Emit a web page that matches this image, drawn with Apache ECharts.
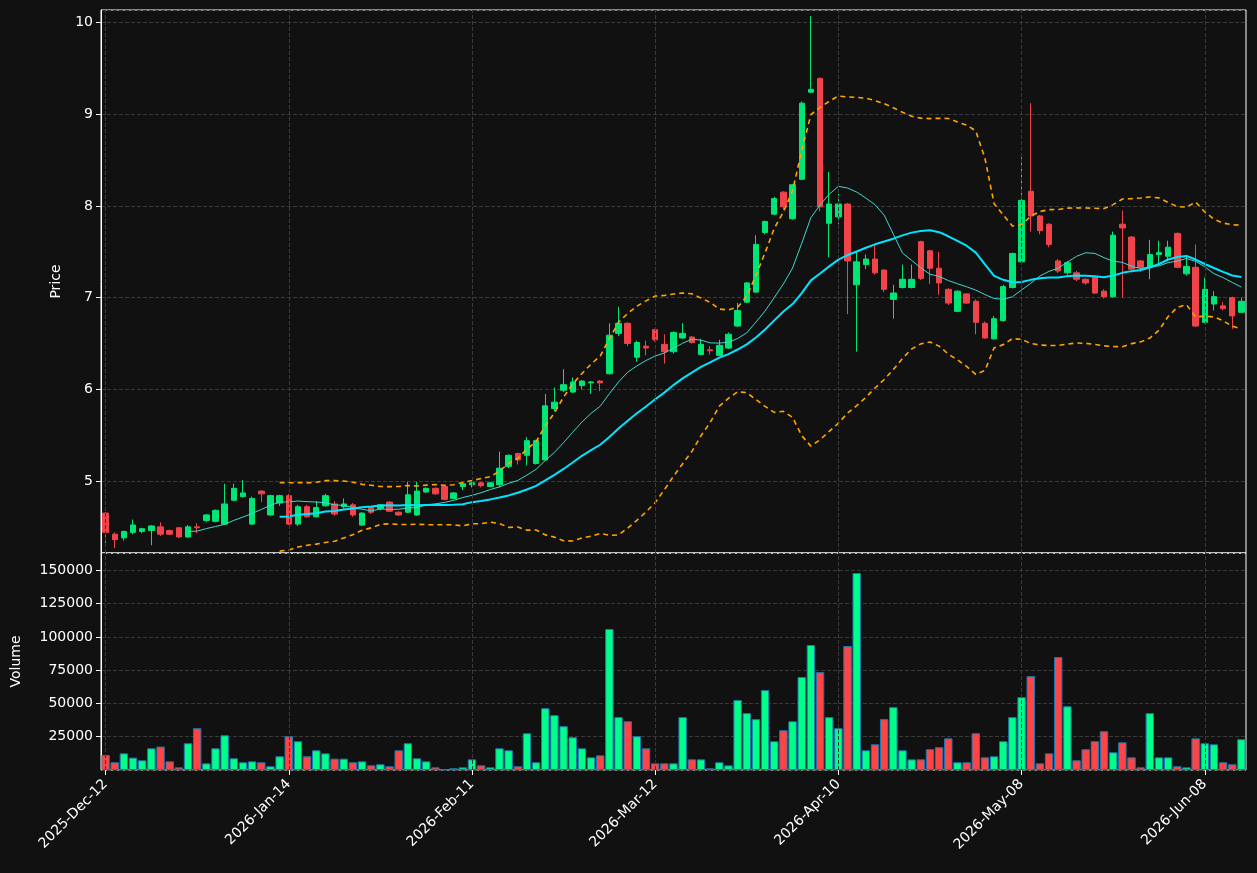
<!DOCTYPE html>
<html><head><meta charset="utf-8">
<script src="https://cdn.jsdelivr.net/npm/echarts@6/dist/echarts.min.js"></script>
<style>html,body{margin:0;background:#111111;}#c{width:1257px;height:873px;}</style>
</head><body><div id="c"></div>
<script>
// [open, close, low, high]
const ohlc = [
[4.65,4.44,4.32,4.66],[4.42,4.36,4.27,4.44],[4.38,4.45,4.35,4.46],[4.44,4.52,4.42,4.58],[4.45,4.48,4.43,4.49],
[4.46,4.51,4.30,4.52],[4.50,4.42,4.40,4.55],[4.46,4.42,4.41,4.47],[4.49,4.39,4.38,4.50],[4.39,4.50,4.38,4.52],
[4.50,4.49,4.43,4.54],[4.57,4.63,4.55,4.64],[4.56,4.68,4.55,4.69],[4.53,4.75,4.52,4.97],[4.79,4.92,4.78,4.97],
[4.83,4.87,4.82,5.01],[4.53,4.81,4.52,4.83],[4.89,4.86,4.77,4.90],[4.63,4.84,4.62,4.85],[4.76,4.84,4.73,4.85],
[4.84,4.53,4.52,4.86],[4.53,4.72,4.51,4.74],[4.72,4.61,4.60,4.74],[4.61,4.71,4.60,4.78],[4.73,4.84,4.72,4.86],
[4.75,4.64,4.62,4.78],[4.72,4.75,4.70,4.81],[4.74,4.63,4.61,4.76],[4.52,4.65,4.51,4.66],[4.71,4.66,4.64,4.72],
[4.70,4.74,4.68,4.75],[4.77,4.67,4.66,4.78],[4.66,4.63,4.62,4.67],[4.66,4.85,4.65,4.99],[4.63,4.89,4.62,4.99],
[4.88,4.92,4.87,4.93],[4.92,4.86,4.85,4.93],[4.94,4.80,4.79,4.95],[4.81,4.87,4.80,4.88],[4.94,4.97,4.90,4.98],
[4.96,4.98,4.93,4.99],[4.98,4.95,4.93,4.99],[4.94,4.98,4.93,4.99],[4.96,5.14,4.93,5.32],[5.16,5.28,5.14,5.29],
[5.30,5.23,5.18,5.31],[5.28,5.44,5.17,5.48],[5.19,5.44,5.18,5.45],[5.23,5.82,5.22,5.95],[5.79,5.86,5.76,6.02],
[5.99,6.05,5.97,6.22],[5.97,6.08,5.96,6.13],[6.04,6.09,6.00,6.10],[6.07,6.08,5.95,6.09],[6.09,6.07,5.98,6.10],
[6.17,6.59,6.16,6.72],[6.61,6.72,6.58,6.90],[6.72,6.50,6.47,6.73],[6.35,6.51,6.30,6.53],[6.47,6.45,6.37,6.53],
[6.65,6.54,6.52,6.66],[6.49,6.41,6.28,6.60],[6.41,6.62,6.39,6.63],[6.56,6.61,6.55,6.72],[6.57,6.51,6.50,6.58],
[6.38,6.49,6.37,6.55],[6.43,6.42,6.38,6.47],[6.37,6.48,6.36,6.54],[6.45,6.60,6.44,6.62],[6.69,6.86,6.68,6.94],
[6.95,7.16,6.94,7.17],[7.06,7.58,7.05,7.68],[7.71,7.83,7.69,7.84],[7.91,8.08,7.90,8.10],[8.15,7.99,7.96,8.16],
[7.86,8.23,7.85,8.24],[8.29,9.12,8.28,9.14],[9.24,9.27,9.23,10.07],[9.39,7.99,7.94,9.40],[7.81,8.02,7.44,8.37],
[7.88,8.02,7.80,8.13],[8.02,7.40,6.82,8.03],[7.14,7.39,6.41,7.50],[7.36,7.42,7.31,7.47],[7.42,7.27,7.25,7.58],
[7.30,7.09,7.06,7.31],[6.98,7.05,6.77,7.14],[7.11,7.20,7.10,7.36],[7.11,7.20,7.10,7.36],[7.61,7.21,7.19,7.62],
[7.51,7.32,7.15,7.52],[7.32,7.16,7.03,7.50],[7.09,6.94,6.92,7.10],[6.85,7.07,6.84,7.08],[7.04,6.94,6.93,7.05],
[6.96,6.73,6.60,6.98],[6.72,6.56,6.55,6.74],[6.55,6.77,6.54,6.80],[6.75,7.12,6.74,7.14],[7.11,7.48,7.10,7.49],
[7.39,8.06,7.38,8.53],[8.16,7.89,7.72,9.12],[7.89,7.73,7.69,7.90],[7.80,7.58,7.55,7.81],[7.40,7.29,7.27,7.42],
[7.27,7.38,7.25,7.40],[7.27,7.20,7.18,7.29],[7.20,7.16,7.14,7.21],[7.23,7.05,7.04,7.24],[7.07,7.01,6.99,7.09],
[7.01,7.68,7.00,7.72],[7.80,7.76,7.00,7.95],[7.66,7.31,7.30,7.67],[7.40,7.33,7.28,7.41],[7.33,7.47,7.20,7.63],
[7.47,7.49,7.35,7.62],[7.45,7.55,7.40,7.62],[7.70,7.33,7.32,7.71],[7.26,7.34,7.24,7.45],[7.33,6.69,6.68,7.58],
[6.73,7.09,6.72,7.22],[6.93,7.01,6.86,7.07],[6.91,6.88,6.86,6.95],[7.00,6.80,6.66,7.01],[6.84,6.96,6.83,7.00]
];
const volumes = [
11300,5800,12500,9300,7300,16300,17600,6500,2000,20100,31400,5000,16300,26100,8800,5800,6500,5800,2800,10300,
25400,21600,10300,14800,12500,8500,8500,5800,6500,3500,4300,2800,14800,20100,8800,6500,2000,500,1300,2000,
8000,3500,2000,16300,14800,2800,27600,5800,46400,41200,32900,24600,16300,9500,11000,105900,39700,36600,25400,16300,
5000,5000,5000,39700,8000,8000,1300,5800,3500,52500,42700,38200,60000,21600,29900,36600,69800,93900,73500,39700,
31400,93100,148000,14800,19300,38200,47200,14800,8000,8000,15600,17100,23800,5800,5800,27600,9500,10300,21600,39700,
54700,70500,5000,12500,84800,47900,7300,15600,21600,29100,13300,20800,9500,2000,42700,9500,9500,2800,2000,23800,
20100,19300,5800,4300,23100
];
const holidays = ['2025-12-25','2025-12-26','2026-01-01','2026-02-16','2026-04-03','2026-05-25'];
const startDate = '2025-12-12';
const monthNames = ['Jan','Feb','Mar','Apr','May','Jun','Jul','Aug','Sep','Oct','Nov','Dec'];

const dates = [];
(function(){
  let d = new Date(startDate + 'T00:00:00Z');
  while (dates.length < ohlc.length) {
    const iso = d.toISOString().slice(0,10);
    const wd = d.getUTCDay();
    if (wd !== 0 && wd !== 6 && holidays.indexOf(iso) < 0) {
      dates.push(d.getUTCFullYear() + '-' + monthNames[d.getUTCMonth()] + '-' + String(d.getUTCDate()).padStart(2,'0'));
    }
    d = new Date(d.getTime() + 86400000);
  }
})();
const tickDates = dates.filter((d,i)=> i%20===0);
const closes = ohlc.map(r => r[1]);
function ma(n){ return closes.map((c,i)=> i<n-1 ? '-' : +(closes.slice(i-n+1,i+1).reduce((a,b)=>a+b,0)/n).toFixed(4)); }
function boll(n,k,sign){ return closes.map((c,i)=>{ if(i<n-1) return '-'; const s=closes.slice(i-n+1,i+1); const m=s.reduce((a,b)=>a+b,0)/n; const sd=Math.sqrt(s.reduce((a,b)=>a+(b-m)*(b-m),0)/n); return +(m+sign*k*sd).toFixed(4); }); }
const UP='#00e676', DOWN='#f0444a';
const volData = volumes.map((v,i)=>({value:v,itemStyle:{color: ohlc[i][1]>=ohlc[i][0] ? '#00ff88' : '#ff4444'}}));
const vGrid = {symbol:'none', silent:true, label:{show:false}, lineStyle:{color:'#3a3a3a', type:'dashed', width:1},
  data: tickDates.map(d=>({xAxis:d}))};
const chart = echarts.init(document.getElementById('c'));
const axisTxt = {color:'#ffffff', fontSize:14, fontFamily:'DejaVu Sans'};
const split = {show:true, lineStyle:{color:'#3a3a3a', type:'dashed'}};
chart.setOption({
  backgroundColor:'#111111',
  animation:false,
  grid:[
    {left:101, right:11, top:10, height:543, show:true, borderColor:'#ffffff', borderWidth:1},
    {left:101, right:11, top:553, height:217, show:true, borderColor:'#ffffff', borderWidth:1}
  ],
  xAxis:[
    {type:'category', data:dates, gridIndex:0, boundaryGap:true, axisLabel:{show:false}, axisTick:{show:false},
     axisLine:{show:false}, splitLine:{show:false}},
    {type:'category', data:dates, gridIndex:1, boundaryGap:true,
     axisLabel:Object.assign({interval:19, rotate:45, margin:12}, axisTxt),
     axisTick:{show:true, interval:19, alignWithLabel:true, lineStyle:{color:'#ffffff'}},
     axisLine:{show:false}, splitLine:{show:false}}
  ],
  yAxis:[
    {type:'value', gridIndex:0, min:4.215, max:10.136, name:'Price', nameLocation:'middle', nameGap:38,
     nameTextStyle:axisTxt, axisLabel:Object.assign({showMinLabel:false, showMaxLabel:false, formatter:v=>Number.isInteger(v)?String(v):''}, axisTxt),
     axisLine:{show:true, lineStyle:{color:'#ffffff'}}, axisTick:{show:true, lineStyle:{color:'#ffffff'}}, splitLine:split},
    {type:'value', gridIndex:1, min:0, max:163000, interval:25000, name:'Volume', nameLocation:'middle', nameGap:78,
     nameTextStyle:axisTxt, axisLabel:Object.assign({showMinLabel:false, showMaxLabel:false, formatter:v=>String(v)}, axisTxt),
     axisLine:{show:true, lineStyle:{color:'#ffffff'}}, axisTick:{show:true, lineStyle:{color:'#ffffff'}}, splitLine:split}
  ],
  series:[
    {type:'line', xAxisIndex:0, yAxisIndex:0, data:[], z:0, markLine:vGrid},
    {type:'line', xAxisIndex:1, yAxisIndex:1, data:[], z:0, markLine:vGrid},
    {type:'candlestick', xAxisIndex:0, yAxisIndex:0, data:ohlc.map(r=>[r[0],r[1],r[2],r[3]]), barWidth:'65%', z:3,
     itemStyle:{color:UP, color0:DOWN, borderColor:UP, borderColor0:DOWN, borderWidth:1}},
    {type:'line', data:ma(10), symbol:'none', z:4, lineStyle:{color:'#40d8cc', width:1}},
    {type:'line', data:ma(20), symbol:'none', z:4, lineStyle:{color:'#00e5ff', width:2}},
    {type:'line', data:boll(20,2,1), symbol:'none', z:4, lineStyle:{color:'#ffa500', width:1.6, type:[5,4]}},
    {type:'line', data:boll(20,2,-1), symbol:'none', z:4, lineStyle:{color:'#ffa500', width:1.6, type:[5,4]}},
    {type:'bar', xAxisIndex:1, yAxisIndex:1, data:volData, barWidth:'92%', z:3,
     itemStyle:{borderColor:'#1f77b4', borderWidth:1}}
  ]
});
</script></body></html>
